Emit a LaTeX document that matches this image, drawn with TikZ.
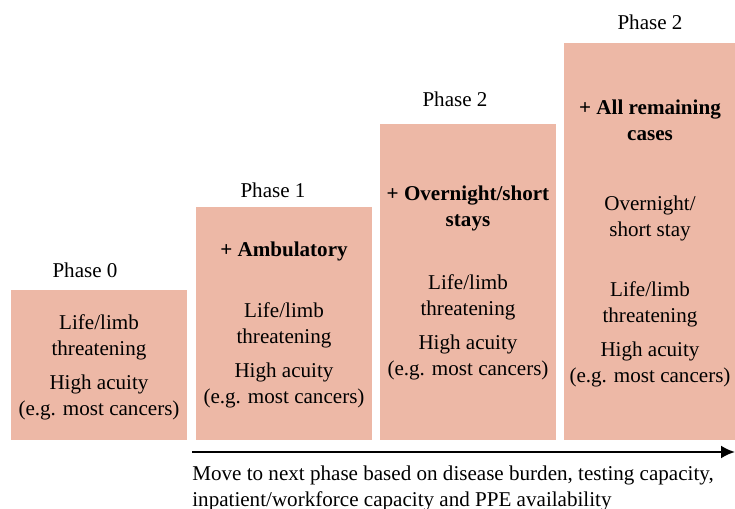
\documentclass[tikz,border=0pt]{standalone}
\usepackage{fontspec}
\setmainfont{Liberation Serif}
\usetikzlibrary{arrows.meta}

\definecolor{phasefill}{RGB}{237,184,166}

\tikzset{
    phasebox/.style={fill=phasefill, draw=none, anchor=north west, inner sep=0pt, minimum width=3.52cm},
    boxtext/.style={align=center, font=\fontsize{12}{14.8}\selectfont, inner sep=0pt},
    phaselabel/.style={font=\fontsize{12}{14.8}\selectfont, anchor=base, inner sep=0pt},
}

\begin{document}
\begin{tikzpicture}[x=0.02cm, y=-0.02cm]
    \useasboundingbox (0,0) rectangle (735,509);

    % boxes
    \node[phasebox, minimum height=3.00cm] (box0) at (11,290) {};
    \node[phasebox, minimum height=4.66cm] (box1) at (196,207) {};
    \node[phasebox, minimum height=6.32cm] (box2) at (380,124) {};
    \node[phasebox, minimum height=7.94cm, minimum width=3.42cm] (box3) at (564,43) {};

    % phase 0
    \node[phaselabel] (label0) at (85,278) {Phase 0};
    \node[boxtext] (life0) at (99,337) {Life/limb\\threatening};
    \node[boxtext] (acuity0) at (99,397.5) {High acuity\\(e.g. most cancers)};

    % phase 1
    \node[phaselabel] (label1) at (273,198) {Phase 1};
    \node[boxtext, font=\fontsize{12}{14.8}\selectfont\bfseries] (add1) at (284,251) {+ Ambulatory};
    \node[boxtext] (life1) at (284,325) {Life/limb\\threatening};
    \node[boxtext] (acuity1) at (284,385.5) {High acuity\\(e.g. most cancers)};

    % phase 2
    \node[phaselabel] (label2) at (455,107) {Phase 2};
    \node[boxtext, font=\fontsize{12}{14.8}\selectfont\bfseries] (add2) at (468,208.5) {+ Overnight/short\\stays};
    \node[boxtext] (life2) at (468,297) {Life/limb\\threatening};
    \node[boxtext] (acuity2) at (468,357.5) {High acuity\\(e.g. most cancers)};

    % phase 2, all cases
    \node[phaselabel] (label3) at (650,30) {Phase 2};
    \node[boxtext, font=\fontsize{12}{14.8}\selectfont\bfseries] (add3) at (650,120.5) {+ All remaining\\cases};
    \node[boxtext] (stay3) at (650,218) {Overnight/\\short stay};
    \node[boxtext] (life3) at (650,304) {Life/limb\\threatening};
    \node[boxtext] (acuity3) at (650,364.5) {High acuity\\(e.g. most cancers)};

    % progression
    \coordinate (flowstart) at (192,452);
    \coordinate (flowend) at (735,452);
    \draw[line width=1.3pt, -{Latex[length=0.28cm, width=0.26cm]}] (flowstart) -- (flowend);
    \node[boxtext, align=left, anchor=north west] (flowtext) at (192,466)
        {Move to next phase based on disease burden, testing capacity,\\inpatient/workforce capacity and PPE availability};
\end{tikzpicture}
\end{document}
